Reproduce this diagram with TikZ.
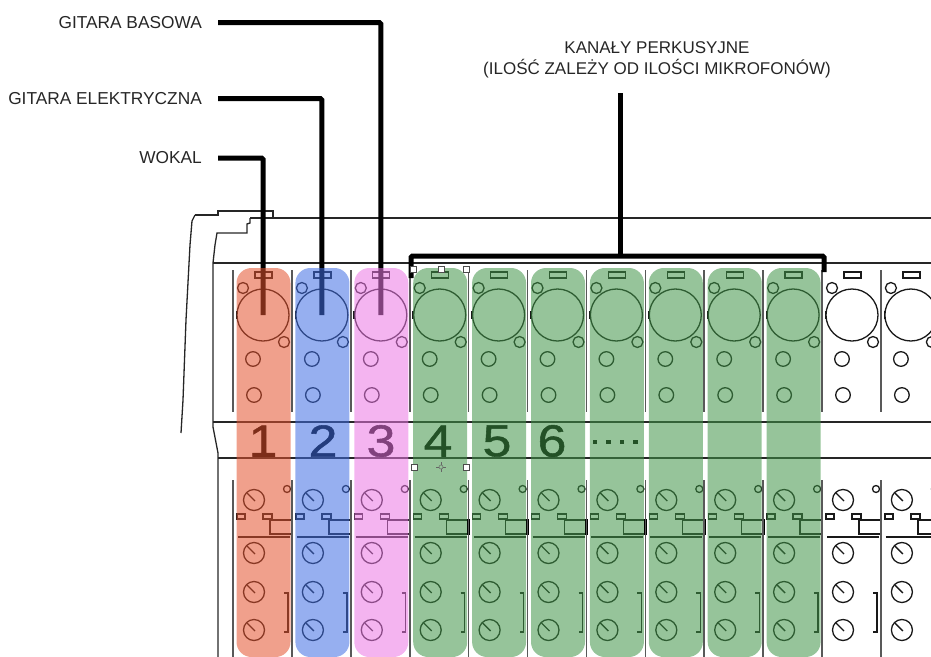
\documentclass[tikz,border=0pt]{standalone}
\usepackage{fontspec}
\setmainfont{Liberation Sans}
\newfontfamily\digfont[FakeStretch=1.15,FakeBold=1.2]{Liberation Sans}
\definecolor{cR}{RGB}{228,82,46}
\definecolor{cB}{RGB}{64,110,228}
\definecolor{cP}{RGB}{235,119,228}
\definecolor{cG}{RGB}{64,148,71}
\begin{document}
\begin{tikzpicture}[x=1pt,y=-1pt,
  outline/.style={draw=black!85, line width=1.3pt},
  sepline/.style={draw=black!65, line width=1.6pt},
  art/.style={draw=black!90, line width=1.3pt},
  conn/.style={draw=black, line width=5pt, rounded corners=1.5pt},
  lbl/.style={font=\fontsize{17.3}{20}\selectfont, text=black!85, anchor=east, inner sep=0pt},
  dig/.style={font=\digfont\fontsize{45}{45}\selectfont, text=black, inner sep=0pt},
  xlr/.style={circle, draw=black!90, line width=1.3pt, minimum size=52pt, inner sep=0pt},
  handle/.style={rectangle, draw=black!70, fill=white, line width=0.6pt, minimum size=6pt, inner sep=0pt},
  strip/.style={opacity=0.55, rounded corners=15pt},
  knob/.pic={\draw[art] (0,0) circle[radius=10.5pt]; \draw[art] (-7,-7) -- (1,1);}
]
\useasboundingbox (0,0) rectangle (931,656);
\clip (0,0) rectangle (931,656);

% mixer body outline
\draw[outline] (195,215) -- (218,215) -- (218,211) -- (273,211) -- (273,218);
\draw[outline] (195,215) -- (192,221) -- (190,245) -- (186,320) -- (183,400) -- (181,433);
\draw[outline] (250,218) -- (931,218);
\draw[outline] (250,218) -- (250,223) -- (247,224) -- (247,233) -- (217,233) -- (215,245) -- (213,263) -- (213,427) -- (218,453) -- (218,660);
\draw[outline] (213,263) -- (931,263);
\draw[outline] (213,422) -- (931,422);
\draw[outline] (218,458) -- (931,458);

% channel strips (line art)
\foreach \k [count=\c, evaluate=\k as \s using {233+58.9*\k}] in {0,...,11} {
  \draw[sepline] (\s,270) -- (\s,412);
  \draw[sepline] (\s,480) -- (\s,660);
  \draw[art] (\s+22,272) rectangle (\s+39,278);
  \node[xlr] (x\c) at (\s+30,315) {};
  \draw[art, line width=1.8pt] (\s+3.5,311) -- (\s+3.5,319);
  \draw[art] (\s+10,288) circle[radius=5.5pt];
  \draw[art] (\s+51,342) circle[radius=5.5pt];
  \draw[art] (\s+20,359) circle[radius=7.3pt];
  \draw[art] (\s+21,395) circle[radius=7.3pt];
  % lower section
  \pic at (\s+21,500) {knob};
  \draw[art] (\s+54,489) circle[radius=3.5pt];
  \draw[art] (\s+4,514) rectangle (\s+12,519);
  \draw[art] (\s+30,514) rectangle (\s+39,519);
  \draw[art] (\s+37,520) rectangle (\s+59,534);
  \draw[draw=black, line width=2.6pt] (\s+59,519) -- (\s+59,535);
  \draw[art] (\s+5,537) -- (\s+57,537);
  \pic at (\s+21,553) {knob};
  \pic at (\s+21,592) {knob};
  \pic at (\s+21,630) {knob};
  \draw[art] (\s+51,593) -- (\s+55,593) -- (\s+55,632) -- (\s+51,632);
}

% channel numbers
\node[dig] (d1) at (263,441) {1};
\node[dig] (d2) at (323,441) {2};
\node[dig] (d3) at (381,441) {3};
\node[dig] (d4) at (438,441) {4};
\node[dig] (d5) at (497,441) {5};
\node[dig] (d6) at (552,441) {6};
\foreach \dx [count=\i] in {595,608.5,622,635.5} {
  \node[fill=black, minimum size=4.5pt, inner sep=0pt] (dot\i) at (\dx,442) {};
}

% labels
\node[lbl] (gbas) at (202,22.5) {GITARA BASOWA};
\node[lbl] (gel) at (202,98.5) {GITARA ELEKTRYCZNA};
\node[lbl] (wok) at (202,158) {WOKAL};
\node[font=\fontsize{17}{20.5}\selectfont, text=black!85, align=center, inner sep=0pt] (perc) at (657,60)
  {KANAŁY PERKUSYJNE\\(ILOŚĆ ZALEŻY OD ILOŚCI MIKROFONÓW)};

% connectors
\draw[conn] ([xshift=16pt]gbas.east) -| (x3.center);
\draw[conn] ([xshift=16pt]gel.east) -| (x2.center);
\draw[conn] ([xshift=16pt]wok.east) -| (x1.center);
\coordinate (pl) at (411,278);
\coordinate (bl) at (411,256);
\coordinate (br) at (824,256);
\coordinate (pr) at (824,272);
\coordinate (st) at (620,93);
\draw[conn] (pl) -- (bl) -- (br) -- (pr);
\draw[conn] (st) -- (st |- bl);

% coloured overlays
\fill[cR, strip] (236.5,268) rectangle (290.5,657);
\fill[cB, strip] (295.4,268) rectangle (349.4,657);
\fill[cP, strip] (354.3,268) rectangle (408.3,657);
\foreach \k in {3,...,9} {
  \pgfmathsetmacro{\s}{233+58.9*\k}
  \fill[cG, strip] (\s+3.5,268) rectangle (\s+57.5,657);
}

% selection handles
\node[handle] (h1) at (413,269) {};
\node[handle] (h2) at (441,269) {};
\node[handle] (h3) at (466,269) {};
\node[handle] (h4) at (414,467) {};
\node[handle] (h5) at (466,467) {};
\node[circle, draw=black!60, line width=0.5pt, minimum size=4pt, inner sep=0pt] (hc) at (441,467) {};
\draw[black!60, line width=0.5pt] (hc.north) -- ++(0,-3) (hc.south) -- ++(0,3) (hc.west) -- ++(-3,0) (hc.east) -- ++(3,0);
\end{tikzpicture}
\end{document}
